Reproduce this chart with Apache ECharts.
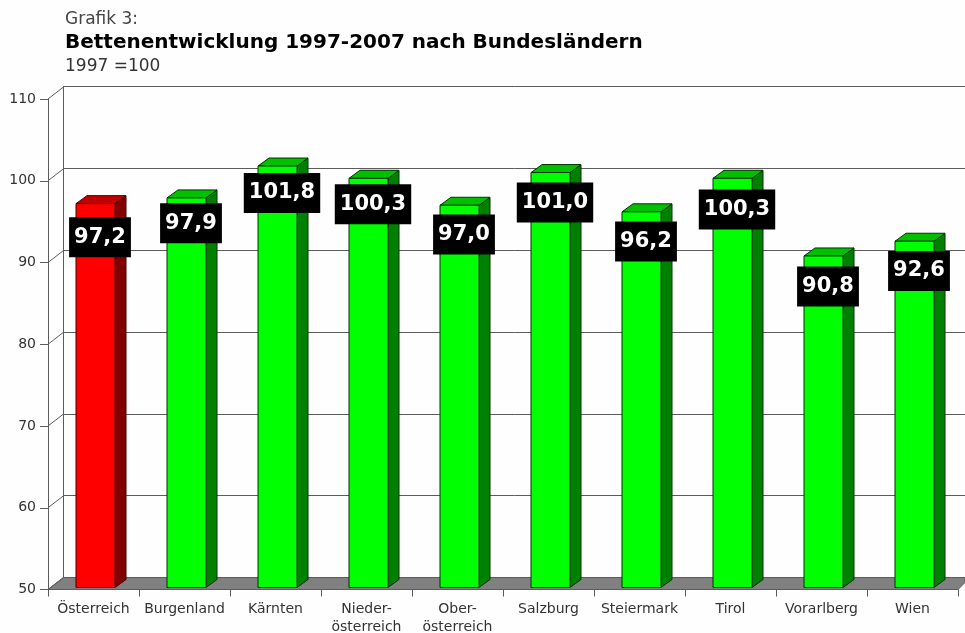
<!DOCTYPE html>
<html>
<head>
<meta charset="utf-8">
<style>html,body{margin:0;padding:0;background:#fdfefd}#c{width:965px;height:633px}</style>
<script src="https://cdn.jsdelivr.net/npm/echarts@6/dist/echarts.min.js"></script>
</head>
<body>
<div id="c"></div>
<script>
// Bed index by federal state, 1997 = 100
const regions = ['Österreich','Burgenland','Kärnten','Nieder-\nösterreich','Ober-\nösterreich','Salzburg','Steiermark','Tirol','Vorarlberg','Wien'];
const bedIndex = [97.2,97.9,101.8,100.3,97.0,101.0,96.2,100.3,90.8,92.6];
const axisMin = 50, axisMax = 110, axisStep = 10;
const axisTicks = [50,60,70,80,90,100,110];

// Extrusion of the pseudo-3D box and placement of the value tags
const DEPTH_X = 15.5, DEPTH_Y = 12, BAR_DX = 11, BAR_DY = 8, BAR_W = 39, BAR_SHIFT = 2, TAG_SHIFT = 4.5;
const tagDrop = [33.6,25.3,27,26,29.2,30,29.7,31.2,30.5,29.8];

const chart = echarts.init(document.getElementById('c'), null, {renderer:'canvas'});
const font = 'DejaVu Sans';
const lineCol = '#5c5c5c';

function box(params, api){
  const i = params.dataIndex;
  const cx = api.coord([i, bedIndex[i]])[0] + BAR_SHIFT;
  const top = api.coord([i, bedIndex[i]])[1];
  const base = api.coord([i, axisMin])[1] - 2;
  const l = cx - BAR_W/2, r = cx + BAR_W/2;
  const main = i === 0 ? '#ff0000' : '#00ff00';
  const side = i === 0 ? '#800000' : '#008000';
  const cap  = i === 0 ? '#c00000' : '#00c000';
  const edge = {stroke: i === 0 ? '#400000' : '#003300', lineWidth:1};
  const shape = pts => ({points:pts});
  return {type:'group', children:[
    {type:'polygon', shape:shape([[r,top],[r+BAR_DX,top-BAR_DY],[r+BAR_DX,base-BAR_DY],[r,base]]), style:{fill:side,...edge}},
    {type:'polygon', shape:shape([[l,top],[l+BAR_DX,top-BAR_DY],[r+BAR_DX,top-BAR_DY],[r,top]]), style:{fill:cap,...edge}},
    {type:'rect', shape:{x:l,y:top,width:BAR_W,height:base-top}, style:{fill:main,...edge}},
    {type:'text', z2:20, style:{
      x:cx+TAG_SHIFT, y:top+tagDrop[i],
      text:bedIndex[i].toFixed(1).replace('.',','),
      fill:'#fff', font:'bold 21px "DejaVu Sans"', align:'center', verticalAlign:'middle',
      backgroundColor:'#000', padding:[10,5,9,5]
    }}
  ]};
}

chart.setOption({
  backgroundColor:'#fdfefd',
  animation:false,
  title:[
    {text:'Grafik 3:', left:60, top:6, textStyle:{fontFamily:font,fontSize:17,fontWeight:'normal',color:'#444'}},
    {text:'Bettenentwicklung 1997-2007 nach Bundesländern', left:60, top:28, textStyle:{fontFamily:font,fontSize:20,fontWeight:'bold',color:'#000'}},
    {text:'1997 =100', left:60, top:53, textStyle:{fontFamily:font,fontSize:17,fontWeight:'normal',color:'#333'}}
  ],
  grid:[
    {left:48, top:99, width:910, height:490.5, outerBoundsMode:'none'},
    {left:63.5, top:86.5, right:0, height:491, outerBoundsMode:'none'}
  ],
  xAxis:[
    {type:'category', gridIndex:0, data:regions, boundaryGap:true,
     axisLine:{lineStyle:{color:lineCol}}, axisTick:{show:true,length:7,alignWithLabel:false,lineStyle:{color:lineCol}},
     axisLabel:{fontFamily:font,fontSize:14,color:'#333',margin:11,lineHeight:18,interval:0}},
    {type:'category', gridIndex:1, data:regions, show:false}
  ],
  yAxis:[
    {type:'value', gridIndex:0, min:axisMin, max:axisMax, interval:axisStep,
     axisLine:{show:true,lineStyle:{color:lineCol}}, axisTick:{show:true,length:8,lineStyle:{color:lineCol}},
     splitLine:{show:false},
     axisLabel:{fontFamily:font,fontSize:14,color:'#333',margin:12}},
    {type:'value', gridIndex:1, min:axisMin, max:axisMax, interval:axisStep,
     axisLine:{show:true,lineStyle:{color:lineCol}}, axisTick:{show:false}, axisLabel:{show:false},
     splitLine:{show:true,lineStyle:{color:lineCol,width:1}}}
  ],
  series:[
    // grey floor between the front axis and the back wall
    {type:'custom', xAxisIndex:0, yAxisIndex:0, z:2, clip:false, silent:true, data:[0],
     renderItem:(p,api)=>{
       const a = api.coord([0,axisMin]);
       const x0 = a[0]-api.size([1,0])[0]/2;
       const x1 = x0+api.size([1,0])[0]*regions.length;
       return {type:'polygon',shape:{points:[[x0,a[1]],[x0+DEPTH_X,a[1]-DEPTH_Y],[965,a[1]-DEPTH_Y],[965,a[1]-DEPTH_Y+5],[x1,a[1]]]},
               style:{fill:'#808080',stroke:'#5c5c5c',lineWidth:1}};
     }},
    // diagonal links from the value ticks to the back wall
    {type:'custom', xAxisIndex:0, yAxisIndex:0, z:3, clip:false, silent:true, data:axisTicks,
     renderItem:(p,api)=>{
       const v = axisTicks[p.dataIndex];
       const a = api.coord([0,v]);
       const x0 = a[0]-api.size([1,0])[0]/2;
       return {type:'line',shape:{x1:x0,y1:a[1],x2:x0+DEPTH_X,y2:a[1]-DEPTH_Y},style:{stroke:lineCol,lineWidth:1}};
     }},
    {type:'custom', xAxisIndex:0, yAxisIndex:0, z:5, clip:false, data:bedIndex, encode:{x:-1,y:0},
     renderItem:box}
  ]
});
</script>
</body>
</html>
